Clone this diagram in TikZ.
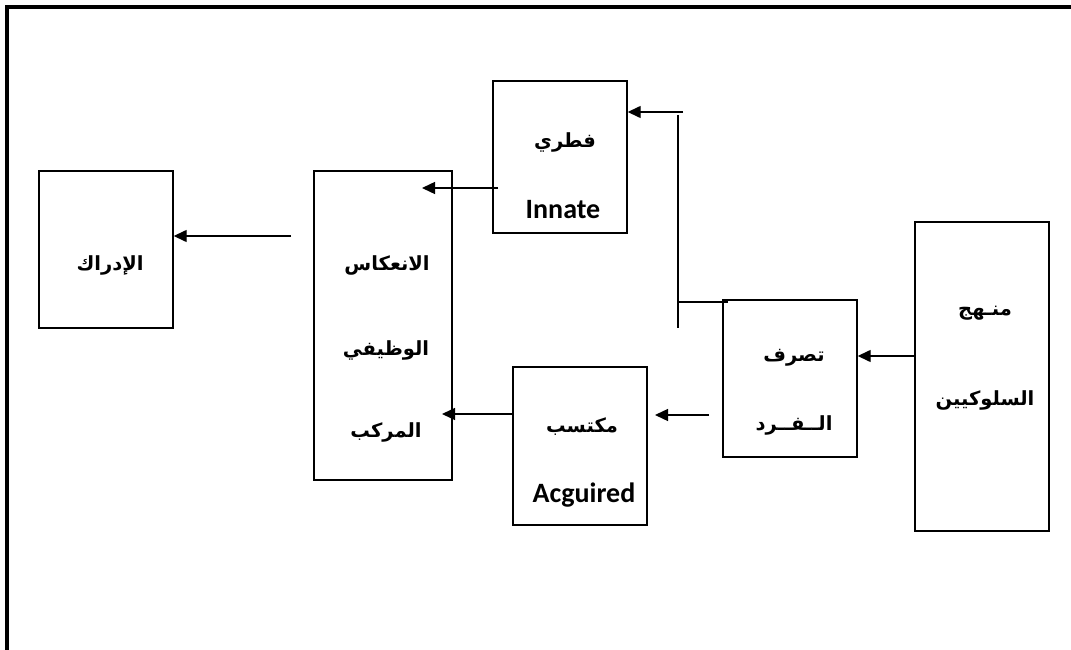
\documentclass[tikz,border=0pt]{standalone}
\usepackage{fontspec}
\usetikzlibrary{arrows.meta}
\TeXXeTstate=1
\newfontfamily\arabicfont[Script=Arabic]{DejaVu Sans}
\newfontfamily\latinfont{Carlito}

\tikzset{
  box/.style={draw, line width=1.4pt, minimum width=134pt, inner sep=0pt},
  ar/.style={font=\arabicfont\bfseries\fontsize{19.5}{22}\selectfont, inner sep=0pt},
  lt/.style={font=\latinfont\bfseries\fontsize{28}{30}\selectfont, inner sep=0pt},
  link/.style={line width=1.4pt},
  arr/.style={line width=1.4pt, -{Triangle[length=13pt,width=12pt]}},
  frame/.style={line width=4.5pt}
}

\begin{document}
\begin{tikzpicture}[x=1pt, y=-1pt]
\useasboundingbox (0,0) rectangle (1071,650);

% outer frame (top and left sides)
\draw[frame] (7,650) -- (7,7) -- (1071,7);

% boxes
\node[box, minimum height=157pt] (percept) at (106,249.5) {};
\node[box, minimum width=138pt, minimum height=309pt] (reflex) at (383,325.5) {};
\node[box, minimum height=152pt] (innate) at (560,157) {};
\node[box, minimum height=158pt] (acquired) at (580,446) {};
\node[box, minimum height=157pt] (behav) at (790,378.5) {};
\node[box, minimum height=309pt] (method) at (982,376.5) {};

% labels
\node[ar] (tPercept) at (110,265) {\beginR الإدراك\endR};
\node[ar] (tReflex1) at (387,265) {\beginR الانعكاس\endR};
\node[ar] (tReflex2) at (386,350) {\beginR الوظيفي\endR};
\node[ar] (tReflex3) at (386,432) {\beginR المركب\endR};
\node[ar] (tInnate) at (565,142) {\beginR فطري\endR};
\node[lt] (tInnateEn) at (563,210) {Innate};
\node[ar] (tAcq) at (582,427) {\beginR مكتسب\endR};
\node[lt] (tAcqEn) at (584,495) {Acguired};
\node[ar] (tBehav1) at (794,358) {\beginR تصرف\endR};
\node[ar] (tBehav2) at (794,425) {\beginR الــفــرد\endR};
\node[ar] (tMethod1) at (985,313) {\beginR منـهج\endR};
\node[ar] (tMethod2) at (985,400) {\beginR السلوكيين\endR};

% free ends of connectors
\coordinate (pIn) at (291,236);
\coordinate (rIn) at (422,188);
\coordinate (iOut) at (498,188);
\coordinate (rIn2) at (442,414);
\coordinate (aIn) at (655,415);
\coordinate (bOut) at (709,415);
\coordinate (vTop) at (683,112);
\coordinate (v1) at (678,115);
\coordinate (v2) at (678,328);
\coordinate (h1) at (678,302);
\coordinate (h2) at (728,302);

% connectors
\draw[arr] (pIn) -- (percept.east |- pIn);
\draw[arr] (iOut) -- (rIn);
\draw[arr] (acquired.west |- rIn2) -- (rIn2);
\draw[arr] (bOut) -- (aIn);
\draw[arr] (method.west |- 0,356) -- (behav.east |- 0,356);
\draw[arr] (vTop) -- (innate.east |- vTop);
\draw[link] (v1) -- (v2);
\draw[link] (h1) -- (h2);
\end{tikzpicture}
\end{document}
